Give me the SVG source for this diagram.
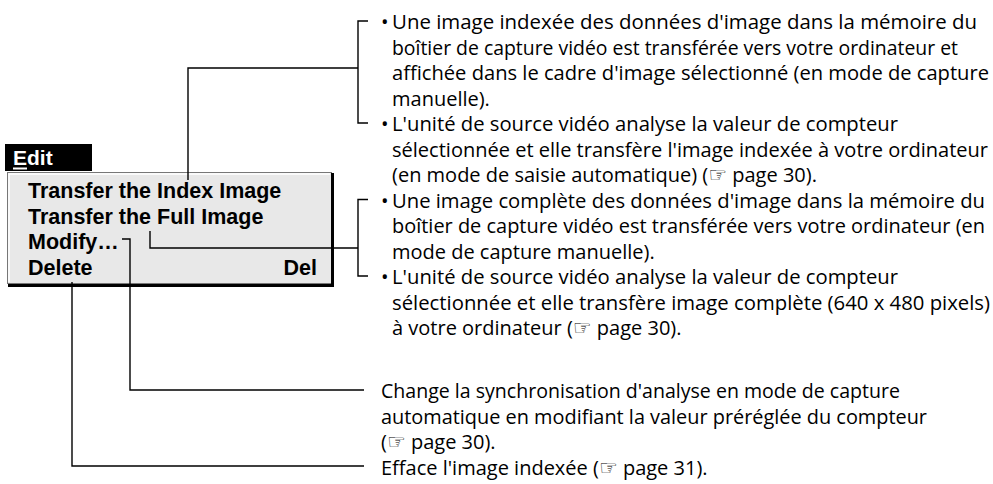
<svg xmlns="http://www.w3.org/2000/svg" width="993" height="484" viewBox="0 0 993 484">
<style>
.menu{font-family:"Liberation Sans",Arial,sans-serif;font-weight:bold;font-size:21.5px;fill:#000}
.tab{font-family:"Liberation Sans",Arial,sans-serif;font-weight:bold;font-size:21px;fill:#fff}
.t{font-family:"Open Sans","DejaVu Sans",sans-serif;font-size:20px;fill:#000}
.h{font-family:"DejaVu Sans",sans-serif;font-size:21px}
.c{fill:none;stroke:#000;stroke-width:1.4}
</style>
<rect width="993" height="484" fill="#fff"/>
<g id="menu">
<rect x="5" y="144" width="87" height="27" fill="#000"/>
<text class="tab" x="13" y="165">Edit</text>
<line x1="13" y1="168.5" x2="27" y2="168.5" stroke="#fff" stroke-width="2"/>
<rect x="7.5" y="172.5" width="324" height="111" fill="#e8e8e8" stroke="#777" stroke-width="1"/>
<polyline points="9,282 9,174 330,174" fill="none" stroke="#fff" stroke-width="1.5"/>
<polyline points="332.5,173 332.5,285.5 8,285.5" fill="none" stroke="#000" stroke-width="3"/>
<text class="menu" x="28" y="198">Transfer the Index Image</text>
<text class="menu" x="28" y="223.5">Transfer the Full Image</text>
<text class="menu" x="28" y="249">Modify…</text>
<text class="menu" x="28" y="274.5">Delete</text>
<text class="menu" x="317" y="274.5" text-anchor="end">Del</text>
</g>
<g id="connectors">
<path class="c" d="M188,180 V68 H358"/>
<path class="c" d="M368,21 H358 V123 H368"/>
<path class="c" d="M150,231 V248 H358"/>
<path class="c" d="M368,199.5 H358 V276 H368"/>
<path class="c" d="M122,239 H130 V390 H364"/>
<path class="c" d="M72,282 V466 H364"/>
</g>
<g id="desc-index">
<text class="t" x="381" y="29">•</text>
<text class="t" x="392" y="29" textLength="585" lengthAdjust="spacingAndGlyphs">Une image indexée des données d'image dans la mémoire du</text>
<text class="t" x="392" y="54.5" textLength="566" lengthAdjust="spacingAndGlyphs">boîtier de capture vidéo est transférée vers votre ordinateur et</text>
<text class="t" x="392" y="80" textLength="597" lengthAdjust="spacingAndGlyphs">affichée dans le cadre d'image sélectionné (en mode de capture</text>
<text class="t" x="392" y="105.5">manuelle).</text>
<text class="t" x="381" y="131">•</text>
<text class="t" x="392" y="131" textLength="506" lengthAdjust="spacingAndGlyphs">L'unité de source vidéo analyse la valeur de compteur</text>
<text class="t" x="392" y="156.5" textLength="596" lengthAdjust="spacingAndGlyphs">sélectionnée et elle transfère l'image indexée à votre ordinateur</text>
<text class="t" x="392" y="182">(en mode de saisie automatique) (<tspan class="h">☞</tspan> page 30).</text>
</g>
<g id="desc-full">
<text class="t" x="381" y="207.5">•</text>
<text class="t" x="392" y="207.5" textLength="593" lengthAdjust="spacingAndGlyphs">Une image complète des données d'image dans la mémoire du</text>
<text class="t" x="392" y="233" textLength="593" lengthAdjust="spacingAndGlyphs">boîtier de capture vidéo est transférée vers votre ordinateur (en</text>
<text class="t" x="392" y="258.5">mode de capture manuelle).</text>
<text class="t" x="381" y="284">•</text>
<text class="t" x="392" y="284" textLength="506" lengthAdjust="spacingAndGlyphs">L'unité de source vidéo analyse la valeur de compteur</text>
<text class="t" x="392" y="309.5" textLength="598" lengthAdjust="spacingAndGlyphs">sélectionnée et elle transfère image complète (640 x 480 pixels)</text>
<text class="t" x="392" y="335">à votre ordinateur (<tspan class="h">☞</tspan> page 30).</text>
</g>
<g id="desc-modify">
<text class="t" x="381" y="398" textLength="519" lengthAdjust="spacingAndGlyphs">Change la synchronisation d'analyse en mode de capture</text>
<text class="t" x="381" y="423.5" textLength="546" lengthAdjust="spacingAndGlyphs">automatique en modifiant la valeur préréglée du compteur</text>
<text class="t" x="381" y="449">(<tspan class="h">☞</tspan> page 30).</text>
</g>
<g id="desc-delete">
<text class="t" x="381" y="474.5">Efface l'image indexée (<tspan class="h">☞</tspan> page 31).</text>
</g>
</svg>
